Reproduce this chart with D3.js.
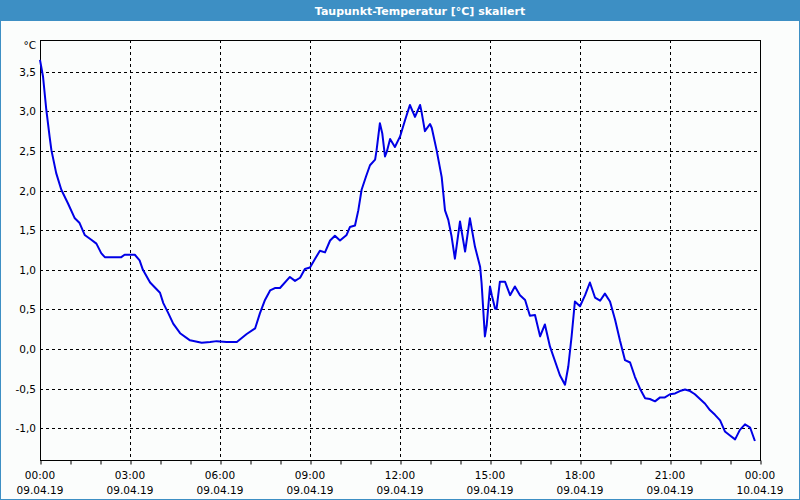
<!DOCTYPE html>
<html><head><meta charset="utf-8">
<script src="https://cdn.jsdelivr.net/npm/d3@7/dist/d3.min.js"></script>
<style>html,body{margin:0;padding:0;background:#fff;}svg{display:block;}</style>
</head><body>
<script>
const title = "Taupunkt-Temperatur [°C] skaliert";
const unitLabel = "°C";
const yTicks = [-1.0, -0.5, 0.0, 0.5, 1.0, 1.5, 2.0, 2.5, 3.0, 3.5];
const xTickHours = [0, 3, 6, 9, 12, 15, 18, 21, 24];
const xTickTimes = ["00:00","03:00","06:00","09:00","12:00","15:00","18:00","21:00","00:00"];
const xTickDates = ["09.04.19","09.04.19","09.04.19","09.04.19","09.04.19","09.04.19","09.04.19","09.04.19","10.04.19"];
const hours = [0,0.1,0.21,0.32,0.38,0.54,0.71,0.93,1.16,1.32,1.49,1.71,1.88,2.04,2.16,2.71,2.82,3.16,3.32,3.43,
 3.67,4.0,4.11,4.28,4.44,4.67,5.0,5.39,5.67,5.89,6.22,6.56,6.89,7.17,7.33,7.5,7.67,7.83,8.0,8.33,
 8.5,8.67,8.83,9.0,9.17,9.33,9.5,9.67,9.83,10.0,10.22,10.33,10.5,10.61,10.72,10.87,11.0,11.17,11.22,11.33,
 11.41,11.5,11.56,11.67,11.83,12.0,12.17,12.33,12.5,12.67,12.72,12.83,13.0,13.06,13.22,13.39,13.5,13.61,13.72,13.83,
 14.0,14.17,14.33,14.5,14.67,14.72,14.83,14.89,15.0,15.06,15.17,15.22,15.33,15.5,15.67,15.83,16.0,16.17,16.33,16.5,
 16.67,16.83,17.0,17.33,17.5,17.61,17.72,17.83,18.0,18.17,18.33,18.5,18.67,18.83,19.0,19.17,19.33,19.5,19.67,19.83,
 20.0,20.17,20.33,20.5,20.67,20.83,21.0,21.17,21.33,21.5,21.67,21.83,22.0,22.17,22.33,22.5,22.67,22.83,23.0,23.17,
 23.33,23.5,23.67,23.83];
const values = [3.65,3.44,3.02,2.68,2.51,2.22,2.01,1.84,1.65,1.59,1.44,1.38,1.33,1.21,1.16,1.16,1.19,1.19,1.12,1.0,
 0.84,0.71,0.58,0.45,0.32,0.20,0.11,0.08,0.09,0.10,0.09,0.09,0.19,0.26,0.45,0.62,0.74,0.77,0.77,0.91,
 0.86,0.90,1.01,1.03,1.14,1.24,1.22,1.37,1.43,1.37,1.44,1.54,1.56,1.75,2.01,2.18,2.32,2.39,2.51,2.85,
 2.72,2.43,2.49,2.65,2.55,2.68,2.89,3.08,2.93,3.08,2.99,2.75,2.84,2.79,2.51,2.17,1.75,1.63,1.42,1.14,
 1.61,1.23,1.65,1.29,1.04,0.83,0.16,0.30,0.79,0.68,0.51,0.51,0.85,0.85,0.68,0.79,0.68,0.62,0.42,0.43,
 0.16,0.31,0.03,-0.33,-0.45,-0.22,0.16,0.60,0.54,0.68,0.84,0.65,0.61,0.70,0.60,0.37,0.11,-0.14,-0.17,-0.35,
 -0.50,-0.62,-0.63,-0.66,-0.61,-0.61,-0.57,-0.56,-0.53,-0.51,-0.53,-0.57,-0.63,-0.69,-0.77,-0.83,-0.90,-1.04,-1.09,-1.14,
 -1.02,-0.95,-0.99,-1.16];

const W = 800, H = 500;
const L = 40, R = 760, T = 40, B = 460;
const svg = d3.select("body").append("svg").attr("width", W).attr("height", H);
const font = "'DejaVu Sans', Verdana, sans-serif";

svg.append("rect").attr("x",0).attr("y",0).attr("width",W).attr("height",H).attr("fill","#3d8fc4");
svg.append("rect").attr("x",1).attr("y",21).attr("width",W-2).attr("height",H-22).attr("fill","#fbfdfc");
svg.append("text").attr("x",420).attr("y",15).attr("text-anchor","middle")
  .attr("fill","#fff").attr("font-family",font).attr("font-weight","bold").attr("font-size","11px")
  .text(title);

const x = d3.scaleLinear().domain([0,24]).range([L,R]);
const y = d3.scaleLinear().domain([-1.4,3.9]).range([B,T]);

// grid
const g = svg.append("g");
g.selectAll("line.h").data(yTicks).join("line")
  .attr("x1",L).attr("x2",R).attr("y1",d=>Math.round(y(d))+0.5).attr("y2",d=>Math.round(y(d))+0.5)
  .attr("stroke","#000").attr("stroke-dasharray","3,3");
g.selectAll("line.v").data(xTickHours.slice(1,-1)).join("line")
  .attr("y1",T).attr("y2",B).attr("x1",d=>Math.round(x(d))+0.5).attr("x2",d=>Math.round(x(d))+0.5)
  .attr("stroke","#000").attr("stroke-dasharray","3,3");

// x axis with hourly ticks
const xAxis = d3.axisBottom(x).tickValues(d3.range(0,25)).tickSize(4).tickFormat("");
const ax = svg.append("g").attr("transform",`translate(0.5,${B+0.5})`).call(xAxis);
ax.select(".domain").remove();
ax.selectAll("line").attr("stroke","#000");

// frame
svg.append("rect").attr("x",L+0.5).attr("y",T+0.5).attr("width",R-L).attr("height",B-T)
  .attr("fill","none").attr("stroke","#000");

// x labels
xTickHours.forEach((h,i)=>{
  svg.append("text").attr("x",x(h)).attr("y",479).attr("text-anchor","middle")
    .attr("font-family",font).attr("font-size","10.5px").attr("fill","#000").text(xTickTimes[i]);
  svg.append("text").attr("x",x(h)).attr("y",494).attr("text-anchor","middle")
    .attr("font-family",font).attr("font-size","10.5px").attr("fill","#000").text(xTickDates[i]);
});
// y labels
const fmt = d => d3.format(".1f")(d).replace(".",",").replace("−","-");
yTicks.forEach(v=>{
  svg.append("text").attr("x",36).attr("y",Math.round(y(v))+4).attr("text-anchor","end")
    .attr("font-family",font).attr("font-size","10.5px").attr("fill","#000").text(fmt(v));
});
svg.append("text").attr("x",36).attr("y",49).attr("text-anchor","end")
  .attr("font-family",font).attr("font-size","10.5px").attr("fill","#000").text(unitLabel);

// line
const data = hours.map((h,i)=>({h, v: values[i]}));
svg.append("path").datum(data)
  .attr("d", d3.line().x(d=>x(d.h)).y(d=>y(d.v)))
  .attr("fill","none").attr("stroke","#0000e6").attr("stroke-width",2).attr("stroke-linejoin","round");
</script>
</body></html>
